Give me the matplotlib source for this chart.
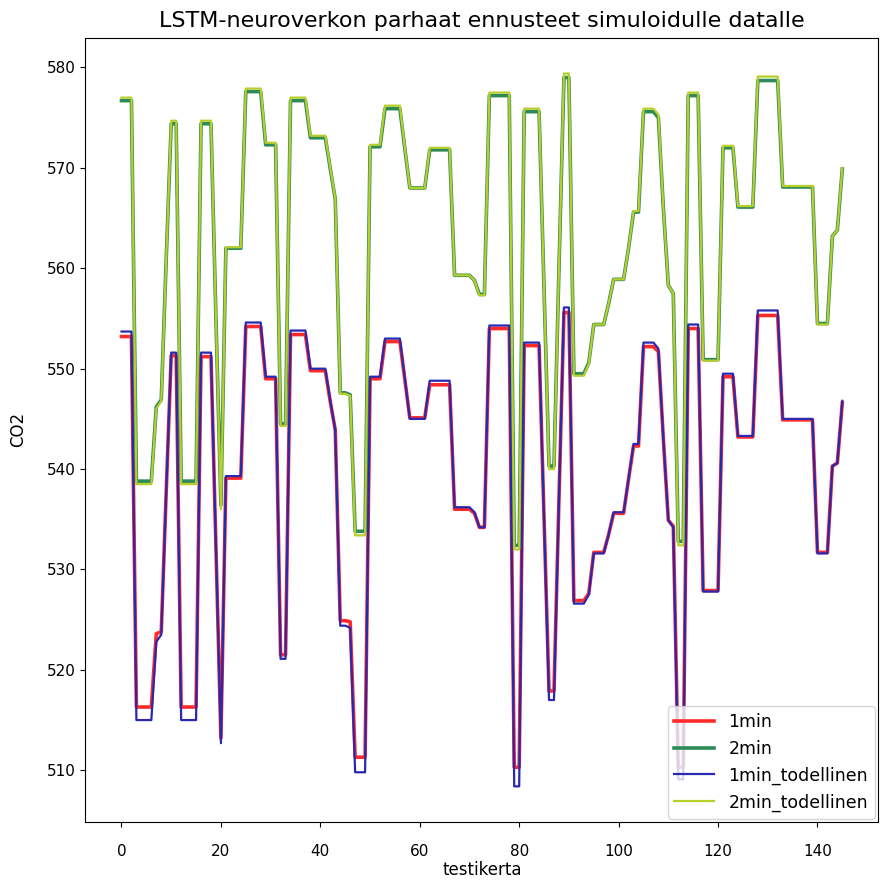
import matplotlib
matplotlib.use('Agg')
import matplotlib.pyplot as plt
import numpy as np

actual_2min = [
    577.0, 577.0, 577.0, 538.5, 538.5, 538.5, 538.5, 546.0, 546.8, 561.0,
    574.7, 574.7, 538.5, 538.5, 538.5, 538.5, 574.7, 574.7, 574.7, 555.0,
    536.0, 562.1, 562.1, 562.1, 562.1, 577.9, 577.9, 577.9, 577.9, 572.5,
    572.5, 572.5, 544.3, 544.3, 577.0, 577.0, 577.0, 577.0, 573.2, 573.2,
    573.2, 573.2, 570.0, 567.0, 547.5, 547.5, 547.3, 533.4, 533.4, 533.4,
    572.3, 572.3, 572.3, 576.2, 576.2, 576.2, 576.2, 572.0, 568.0, 568.0,
    568.0, 568.0, 572.0, 572.0, 572.0, 572.0, 572.0, 559.3, 559.3, 559.3,
    559.3, 558.8, 557.3, 557.3, 577.5, 577.5, 577.5, 577.5, 577.5, 532.0,
    532.0, 575.9, 575.9, 575.9, 575.9, 558.0, 540.0, 540.0, 560.0, 579.4,
    579.4, 549.3, 549.3, 549.3, 550.5, 554.4, 554.4, 554.4, 556.5, 558.9,
    558.9, 558.9, 562.0, 565.7, 565.7, 575.9, 575.9, 575.9, 575.3, 566.0,
    558.3, 557.5, 532.4, 532.4, 577.5, 577.5, 577.5, 550.8, 550.8, 550.8,
    550.8, 572.2, 572.2, 572.2, 566.2, 566.2, 566.2, 566.2, 579.1, 579.1,
    579.1, 579.1, 579.1, 568.2, 568.2, 568.2, 568.2, 568.2, 568.2, 568.2,
    554.4, 554.4, 554.4, 563.2, 563.8, 570.0,
]

# 2min prediction, nearly on top of the actual values
pred_2min = [
    576.7, 576.7, 576.7, 538.8, 538.8, 538.8, 538.8, 546.2, 546.9, 561.0,
    574.4, 574.4, 538.8, 538.8, 538.8, 538.8, 574.4, 574.4, 574.4, 555.0,
    536.4, 562.0, 562.0, 562.0, 562.0, 577.6, 577.6, 577.6, 577.6, 572.3,
    572.3, 572.3, 544.5, 544.5, 576.7, 576.7, 576.7, 576.7, 573.0, 573.0,
    573.0, 573.0, 569.9, 566.9, 547.6, 547.6, 547.4, 533.8, 533.8, 533.8,
    572.1, 572.1, 572.1, 575.9, 575.9, 575.9, 575.9, 571.9, 568.0, 568.0,
    568.0, 568.0, 571.8, 571.8, 571.8, 571.8, 571.8, 559.3, 559.3, 559.3,
    559.3, 558.8, 557.4, 557.4, 577.2, 577.2, 577.2, 577.2, 577.2, 532.4,
    532.4, 575.6, 575.6, 575.6, 575.6, 558.0, 540.3, 540.3, 560.0, 579.0,
    579.0, 549.5, 549.5, 549.5, 550.6, 554.4, 554.4, 554.4, 556.5, 558.9,
    558.9, 558.9, 562.0, 565.6, 565.6, 575.6, 575.6, 575.6, 575.0, 566.0,
    558.3, 557.5, 532.8, 532.8, 577.2, 577.2, 577.2, 550.9, 550.9, 550.9,
    550.9, 572.0, 572.0, 572.0, 566.1, 566.1, 566.1, 566.1, 578.7, 578.7,
    578.7, 578.7, 578.7, 568.1, 568.1, 568.1, 568.1, 568.1, 568.1, 568.1,
    554.5, 554.5, 554.5, 563.2, 563.8, 569.9,
]

# 1min_todellinen (actual, 1 minute)
actual_1min = [
    553.7, 553.7, 553.7, 515.0, 515.0, 515.0, 515.0, 522.8, 523.5, 537.8,
    551.6, 551.6, 515.0, 515.0, 515.0, 515.0, 551.6, 551.6, 551.6, 532.0,
    512.7, 539.3, 539.3, 539.3, 539.3, 554.6, 554.6, 554.6, 554.6, 549.2,
    549.2, 549.2, 521.1, 521.1, 553.8, 553.8, 553.8, 553.8, 550.0, 550.0,
    550.0, 550.0, 546.8, 543.9, 524.4, 524.4, 524.2, 509.8, 509.8, 509.8,
    549.2, 549.2, 549.2, 553.0, 553.0, 553.0, 553.0, 549.0, 545.0, 545.0,
    545.0, 545.0, 548.8, 548.8, 548.8, 548.8, 548.8, 536.2, 536.2, 536.2,
    536.2, 535.7, 534.2, 534.2, 554.3, 554.3, 554.3, 554.3, 554.3, 508.4,
    508.4, 552.6, 552.6, 552.6, 552.6, 535.0, 517.0, 517.0, 537.0, 556.1,
    556.1, 526.6, 526.6, 526.6, 527.5, 531.6, 531.6, 531.6, 533.5, 535.7,
    535.7, 535.7, 539.0, 542.5, 542.5, 552.6, 552.6, 552.6, 552.0, 543.0,
    534.9, 534.2, 509.1, 509.1, 554.4, 554.4, 554.4, 527.8, 527.8, 527.8,
    527.8, 549.5, 549.5, 549.5, 543.3, 543.3, 543.3, 543.3, 555.8, 555.8,
    555.8, 555.8, 555.8, 545.0, 545.0, 545.0, 545.0, 545.0, 545.0, 545.0,
    531.6, 531.6, 531.6, 540.3, 540.6, 546.8,
]

# 1min prediction
pred_1min = [
    553.2, 553.2, 553.2, 516.3, 516.3, 516.3, 516.3, 523.6, 523.8, 537.8,
    551.3, 551.3, 516.3, 516.3, 516.3, 516.3, 551.2, 551.2, 551.2, 532.2,
    513.2, 539.1, 539.1, 539.1, 539.1, 554.2, 554.2, 554.2, 554.2, 549.0,
    549.0, 549.0, 521.5, 521.5, 553.4, 553.4, 553.4, 553.4, 549.8, 549.8,
    549.8, 549.8, 546.7, 543.9, 524.9, 524.9, 524.8, 511.3, 511.3, 511.3,
    549.0, 549.0, 549.0, 552.7, 552.7, 552.7, 552.7, 548.9, 545.1, 545.1,
    545.1, 545.1, 548.4, 548.4, 548.4, 548.4, 548.4, 536.0, 536.0, 536.0,
    536.0, 535.6, 534.2, 534.2, 554.0, 554.0, 554.0, 554.0, 554.0, 510.3,
    510.3, 552.3, 552.3, 552.3, 552.3, 535.2, 517.9, 517.9, 537.0, 555.6,
    555.6, 526.9, 526.9, 526.9, 527.6, 531.7, 531.7, 531.7, 533.5, 535.6,
    535.6, 535.6, 539.0, 542.3, 542.3, 552.2, 552.2, 552.2, 551.7, 543.0,
    534.9, 534.3, 510.3, 510.3, 554.0, 554.0, 554.0, 527.9, 527.9, 527.9,
    527.9, 549.2, 549.2, 549.2, 543.2, 543.2, 543.2, 543.2, 555.3, 555.3,
    555.3, 555.3, 555.3, 544.9, 544.9, 544.9, 544.9, 544.9, 544.9, 544.9,
    531.7, 531.7, 531.7, 540.3, 540.6, 546.6,
]

labels = ['1min', '2min', '1min_todellinen', '2min_todellinen']
colors = ['#ff2b2b', '#2e8b57', '#2828b0', '#b8ce2a']
widths = [2.6, 2.6, 1.6, 1.6]

fig = plt.figure(figsize=(8.81, 8.81), dpi=100)
ax = fig.add_subplot(1, 1, 1)
fig.subplots_adjust(left=0.097, right=0.997, top=0.957, bottom=0.067)

series = [pred_1min, pred_2min, actual_1min, actual_2min]
for values, label, color, lw in zip(series, labels, colors, widths):
    ax.plot(np.arange(len(values)), values, color=color, linewidth=lw, label=label)

ax.set_title('LSTM-neuroverkon parhaat ennusteet simuloidulle datalle', fontsize=16, pad=8)
ax.set_xlabel('testikerta', fontsize=12, labelpad=2)
ax.set_ylabel('CO2', fontsize=12, labelpad=14)
ax.set_xticks([0, 20, 40, 60, 80, 100, 120, 140])
ax.set_yticks([510, 520, 530, 540, 550, 560, 570, 580])
ax.tick_params(labelsize=11)
ax.tick_params(axis='x', pad=12)
ax.legend(loc='lower right', fontsize=12.5, handlelength=2.3, borderaxespad=0.2)

fig.savefig('out.png', dpi=100)
